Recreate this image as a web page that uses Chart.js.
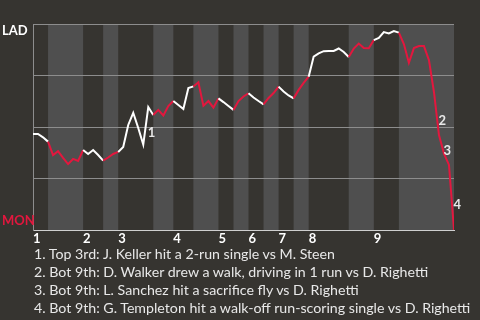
<!DOCTYPE html>
<html>
<head>
<meta charset="utf-8">
<script src="https://cdn.jsdelivr.net/npm/chart.js@4"></script>
<style>
  html, body { margin: 0; padding: 0; background: #363430; }
  #wrap { position: relative; width: 480px; height: 320px; overflow: hidden; }
  #wp { position: absolute; left: 0; top: 0; }
  #notes {
    position: absolute; left: 34px; top: 245px; margin: 0; padding: 0;
    list-style: none; color: #e8e8e8; font: 14.2px Lato, sans-serif; line-height: 18px;
    white-space: nowrap;
  }
</style>
</head>
<body>
<div id="wrap">
  <canvas id="wp" width="480" height="250"></canvas>
  <ul id="notes"></ul>
</div>
<script>
// LAD win probability (%) after each plate appearance, 0 = first pitch
const ladWinPct = [
  46.6, 46.6, 45.0, 42.9,                         // top 1
  36.4, 38.3, 35.0, 32.0, 34.5, 33.5, 38.8,       // bot 1
  36.9, 38.8, 36.4, 33.7,                         // top 2
  35.2, 36.9, 37.9,                               // bot 2
  40.3, 51.0, 56.9, 49.5, 41.5, 59.7, 55.8,       // top 3
  58.3, 55.6, 60.2, 62.6,                         // bot 3
  60.7, 58.7, 68.9, 69.7,                         // top 4
  71.7, 60.3, 62.6, 59.4, 63.9,                   // bot 4
  62.1, 60.2, 58.3,                               // top 5
  62.6, 64.8, 66.4,                               // bot 5
  64.3, 62.6, 61.0,                               // top 6
  64.1, 66.5, 69.6,                               // bot 6
  67.2, 65.3, 63.9,                               // top 7
  68.0, 71.4, 74.4,                               // bot 7
  84.2, 85.7, 86.8, 86.9, 86.9, 88.1, 86.4, 84.0, // top 8
  88.1, 90.5, 88.3, 88.2, 92.2,                   // bot 8
  93.2, 96.1, 95.4, 96.6, 95.8,                   // top 9
  90.3, 81.2, 88.3, 89.3, 89.3, 82.5, 67.0, 46.1, 37.1, 31.6, 0 // bot 9
];

// plate appearance index where each half inning starts (last = end of game)
const halfStarts = [0, 3, 10, 14, 17, 24, 28, 32, 37, 40, 43, 46, 49, 52, 55, 63, 68, 73, 84];
const inningLabels = ["1", "2", "3", "4", "5", "6", "7", "8", "9"];

const keyEvents = [23, 81, 82, 84];
const keyNotes = [
  "Top 3rd: J. Keller hit a 2-run single vs M. Steen",
  "Bot 9th: D. Walker drew a walk, driving in 1 run vs D. Righetti",
  "Bot 9th: L. Sanchez hit a sacrifice fly vs D. Righetti",
  "Bot 9th: G. Templeton hit a walk-off run-scoring single vs D. Righetti"
];

const BG = "#363430";
const BAND = "#4f4f4f";
const RED = "#e3173e";
const WHITE = "#ffffff";

function halfIndex(x) {
  let h = 0;
  for (let i = 0; i < halfStarts.length - 1; i++) {
    if (x >= halfStarts[i]) h = i;
  }
  return h;
}

const extras = {
  id: "extras",
  beforeDraw(chart) {
    const { ctx, chartArea: a, scales: { x } } = chart;
    ctx.save();
    ctx.fillStyle = BG;
    ctx.fillRect(0, 0, chart.width, chart.height);
    ctx.fillStyle = BAND;
    for (let i = 1; i < halfStarts.length - 1; i += 2) {
      const x0 = x.getPixelForValue(halfStarts[i]);
      const x1 = x.getPixelForValue(halfStarts[i + 1]);
      ctx.fillRect(x0, a.top, x1 - x0, a.bottom - a.top);
    }
    ctx.restore();
  },
  afterDatasetsDraw(chart) {
    const { ctx, chartArea: a, scales: { x, y } } = chart;
    ctx.save();
    ctx.font = "bold 13px Lato, sans-serif";
    ctx.textAlign = "left";
    ctx.textBaseline = "middle";
    ctx.fillStyle = WHITE;
    ctx.fillText("LAD", 2, a.top + 7);
    ctx.fillStyle = RED;
    ctx.fillText("MON", 2, a.bottom - 9);

    ctx.fillStyle = "#e8e8e8";
    keyEvents.forEach((k, i) => {
      const px = x.getPixelForValue(k);
      const py = (y.getPixelForValue(ladWinPct[k - 1]) + y.getPixelForValue(ladWinPct[k])) / 2 + 7;
      ctx.fillText(String(i + 1), px - 0.5, py);
    });
    ctx.restore();
  }
};

Chart.defaults.font.family = "Lato, sans-serif";

new Chart(document.getElementById("wp").getContext("2d"), {
  type: "line",
  data: {
    datasets: [{
      data: ladWinPct.map((v, i) => ({ x: i, y: v })),
      borderColor: WHITE,
      borderWidth: 2,
      pointRadius: 0,
      tension: 0,
      segment: {
        borderColor: c => (halfIndex(c.p0.parsed.x) % 2 ? RED : WHITE)
      }
    }]
  },
  options: {
    responsive: false,
    animation: false,
    events: [],
    layout: { padding: { left: 33, top: 24, right: 26, bottom: 0 } },
    plugins: { legend: { display: false }, tooltip: { enabled: false } },
    scales: {
      x: {
        type: "linear",
        min: 0,
        max: halfStarts[halfStarts.length - 1],
        grid: { display: false },
        border: { color: "#cfcfcf", width: 1 },
        afterBuildTicks: s => {
          s.ticks = halfStarts.filter((v, i) => i % 2 === 0 && i < halfStarts.length - 1).map(v => ({ value: v }));
        },
        afterFit: s => { s.height = 20; },
        ticks: {
          autoSkip: false,
          maxRotation: 0,
          align: "start",
          padding: -7,
          color: WHITE,
          font: { weight: "bold", size: 13 },
          callback: v => inningLabels[halfStarts.indexOf(v) / 2]
        }
      },
      y: {
        min: 0,
        max: 100,
        grid: {
          drawTicks: false,
          color: c => (c.tick && c.tick.value === 0 ? "#cfcfcf" : "#8d8d8d")
        },
        border: { color: "#8d8d8d" },
        ticks: { display: false, stepSize: 25 }
      }
    }
  },
  plugins: [extras]
});

const notes = document.getElementById("notes");
keyNotes.forEach((t, i) => {
  const li = document.createElement("li");
  li.textContent = (i + 1) + ". " + t;
  notes.appendChild(li);
});
</script>
</body>
</html>
